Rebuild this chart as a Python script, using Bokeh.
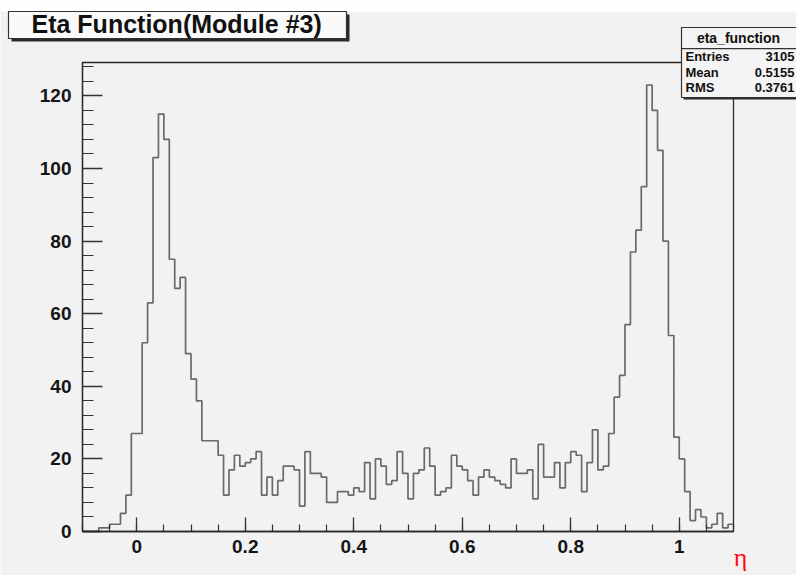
import numpy as np
from bokeh.plotting import figure
from bokeh.models import FixedTicker, Label, BoxAnnotation, Range1d
from bokeh.embed import file_html
from bokeh.resources import INLINE

# ---------------- data ----------------
x_min = -0.1
x_max = 1.1
bin_width = 0.01
counts = [
    0, 0, 0, 1, 1, 2, 2, 5, 10, 27,          # -0.10 .. -0.01
    27, 52, 63, 103, 115, 108, 75, 67, 70, 49,  # 0.00 .. 0.09
    42, 36, 25, 25, 25, 21, 10, 17, 21, 18,     # 0.10 .. 0.19
    19, 20, 22, 10, 15, 10, 14, 18, 18, 17,     # 0.20 .. 0.29
    7, 22, 16, 16, 15, 8, 8, 11, 11, 10,        # 0.30 .. 0.39
    12, 11, 19, 9, 20, 18, 13, 14, 22, 16,      # 0.40 .. 0.49
    9, 16, 17, 23, 18, 10, 11, 12, 21, 18,      # 0.50 .. 0.59
    17, 14, 10, 15, 17, 15, 14, 13, 12, 20,     # 0.60 .. 0.69
    16, 16, 17, 9, 24, 15, 15, 19, 12, 19,      # 0.70 .. 0.79
    22, 21, 11, 19, 28, 17, 18, 27, 37, 43,     # 0.80 .. 0.89
    57, 77, 83, 95, 123, 116, 105, 80, 54, 26,  # 0.90 .. 0.99
    20, 11, 3, 6, 4, 1, 2, 5, 1, 2,             # 1.00 .. 1.09
]
y_max = 129.2
x_ticks = [0, 0.2, 0.4, 0.6, 0.8, 1.0]
x_tick_labels = ["0", "0.2", "0.4", "0.6", "0.8", "1"]
x_minor_step = 0.05
y_ticks = [0, 20, 40, 60, 80, 100, 120]
y_minor_step = 4
title_text = "Eta Function(Module #3)"
x_title = "η"
stats_name = "eta_function"
stats_keys = ["Entries", "Mean", "RMS"]
stats_vals = ["3105", "0.5155", "0.3761"]

# ---------------- layout ----------------
BG = "#f2f2f2"
FONT = "Liberation Sans"
W, H = 796, 575
FL, FT, FR, FB = 82, 62, 733, 531   # ROOT frame edges in canvas px

kx = (FR - FL) / (x_max - x_min)
ky = (FB - FT) / y_max
xr = Range1d(x_min - FL / kx, x_max + (W - FR) / kx)
yr = Range1d(-(H - FB) / ky, y_max + FT / ky)

p = figure(width=W, height=H, output_backend="svg", toolbar_location=None,
           x_range=xr, y_range=yr, min_border=0,
           min_border_left=0, min_border_right=0,
           min_border_top=0, min_border_bottom=0)
p.background_fill_color = BG
p.border_fill_color = BG
p.outline_line_color = None
p.grid.visible = False


def sx(cx):
    return cx


def sy(cy):
    return H - cy


def box(l, t, r, b, fill, line=None, lw=1.0, level="overlay"):
    ba = BoxAnnotation(left=sx(l), right=sx(r), top=sy(t), bottom=sy(b),
                       left_units="screen", right_units="screen",
                       top_units="screen", bottom_units="screen",
                       fill_color=fill, fill_alpha=1.0 if fill else 0.0,
                       line_color=line, line_alpha=1.0, line_width=lw,
                       level=level)
    p.add_layout(ba)


def label(cx, cy, text, size, align="left", baseline="middle", color="#111111",
          font=FONT, style="bold"):
    lb = Label(x=sx(cx), y=sy(cy), x_units="screen", y_units="screen",
               text=text, text_font=font, text_font_style=style,
               text_font_size=size, text_align=align, text_baseline=baseline,
               text_color=color, level="overlay")
    p.add_layout(lb)


# white strip at the very top of the picture
box(0, 0, W, 11, "#ffffff", level="underlay")

# histogram
edges = x_min + bin_width * np.arange(len(counts) + 1)
ys = list(counts) + [counts[-1]]
p.step(x=edges, y=ys, mode="after", line_color="#6a6a6a", line_width=1.7)

# ROOT frame
p.add_layout(BoxAnnotation(left=x_min, right=x_max, bottom=0, top=y_max,
                           fill_alpha=0.0, line_color="#2a2a2a", line_alpha=1.0,
                           line_width=1.3, level="annotation"))

# axes drawn on the frame edges
x_minor = list(np.round(np.arange(x_min, x_max + 1e-9, x_minor_step), 4))
y_minor = list(range(0, int(y_max) + 1, y_minor_step))
p.xaxis.ticker = FixedTicker(ticks=x_ticks, minor_ticks=x_minor)
p.yaxis.ticker = FixedTicker(ticks=y_ticks, minor_ticks=y_minor)
p.xaxis.major_label_overrides = {t: l for t, l in zip(x_ticks, x_tick_labels)}
p.xaxis.fixed_location = 0
p.yaxis.fixed_location = x_min
p.xaxis.bounds = (x_min, x_max)
p.yaxis.bounds = (0, y_max)

for ax in (p.xaxis[0], p.yaxis[0]):
    ax.major_tick_out = 0
    ax.minor_tick_out = 0
    ax.axis_line_color = "#222222"
    ax.axis_line_width = 1.3
    ax.major_tick_line_color = "#333333"
    ax.minor_tick_line_color = "#333333"
    ax.major_tick_line_width = 1.3
    ax.minor_tick_line_width = 1.2
    ax.major_label_text_font = FONT
    ax.major_label_text_font_style = "bold"
    ax.major_label_text_font_size = "19px"
    ax.major_label_text_color = "#151515"
p.xaxis.major_tick_in = 14
p.xaxis.minor_tick_in = 7
p.yaxis.major_tick_in = 20
p.yaxis.minor_tick_in = 11
p.xaxis.major_label_standoff = 8
p.yaxis.major_label_standoff = 11

# title box (with shadow)
box(11, 14, 349, 41, "#2a2a2a")
box(8, 11, 346, 38, "#fafafa", "#333333", 1.2)
label(31, 23.5, title_text, "25px", baseline="middle")

# stats box (with shadow)
box(683, 29, 800, 99, "#2a2a2a")
box(681, 27, 798, 97, "#f4f4f4", "#333333", 1.2)
box(681, 47.5, 798, 48.7, "#333333")
label(738, 37, stats_name, "14px", align="center")
for i, (k, v) in enumerate(zip(stats_keys, stats_vals)):
    cy = 56 + 15.5 * i
    label(685, cy, k, "13px")
    label(794, cy, v, "13px", align="right")

# axis title
label(740, 557, x_title, "26px", align="center", baseline="middle",
      color="#ff1010", font="Liberation Serif", style="normal")

open("out.html", "w").write(file_html(p, INLINE))
